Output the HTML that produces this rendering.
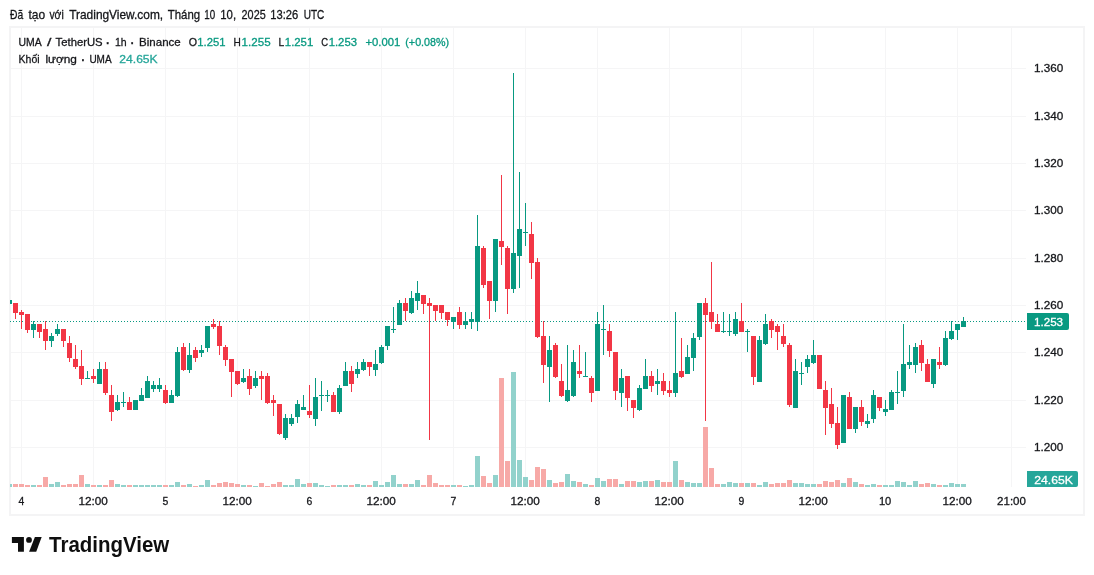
<!DOCTYPE html>
<html lang="vi"><head><meta charset="utf-8"><title>UMA / TetherUS</title>
<style>html,body{margin:0;padding:0;background:#fff}body{width:1094px;height:575px;overflow:hidden;position:relative}svg{position:absolute;left:0;top:0;display:block}text{font-family:"Liberation Sans", "DejaVu Sans", sans-serif;fill:#15161a}text{stroke:#15161a;stroke-width:.3px}.g{fill:#089981}.r{fill:#f23645}.vg{fill:#92d2cc}.vr{fill:#f7a9a7}.tg{fill:#089981;stroke:#089981}.w{fill:#fff;stroke:#fff}.tv{fill:#26a69a;stroke:#26a69a}</style></head><body>
<svg width="1094" height="575" viewBox="0 0 1094 575">
<rect x="0" y="0" width="1094" height="575" fill="#fff"/>
<text y="19" font-size="12.6"><tspan x="10.1" textLength="13.2" lengthAdjust="spacingAndGlyphs">Đã</tspan> <tspan x="28.4" textLength="16.7" lengthAdjust="spacingAndGlyphs">tạo</tspan> <tspan x="49.4" textLength="14.3" lengthAdjust="spacingAndGlyphs">với</tspan> <tspan x="69.2" textLength="94.0" lengthAdjust="spacingAndGlyphs">TradingView.com,</tspan> <tspan x="167.8" textLength="32.3" lengthAdjust="spacingAndGlyphs">Tháng</tspan> <tspan x="204.3" textLength="10.9" lengthAdjust="spacingAndGlyphs">10</tspan> <tspan x="220.3" textLength="15.8" lengthAdjust="spacingAndGlyphs">10,</tspan> <tspan x="241.6" textLength="24.1" lengthAdjust="spacingAndGlyphs">2025</tspan> <tspan x="270.3" textLength="28.0" lengthAdjust="spacingAndGlyphs">13:26</tspan> <tspan x="303.7" textLength="20.6" lengthAdjust="spacingAndGlyphs">UTC</tspan></text>
<g shape-rendering="crispEdges">
<rect x="11" y="68" width="1015" height="1" fill="#f5f5f6"/>
<rect x="11" y="116" width="1015" height="1" fill="#f5f5f6"/>
<rect x="11" y="163" width="1015" height="1" fill="#f5f5f6"/>
<rect x="11" y="210" width="1015" height="1" fill="#f5f5f6"/>
<rect x="11" y="258" width="1015" height="1" fill="#f5f5f6"/>
<rect x="11" y="305" width="1015" height="1" fill="#f5f5f6"/>
<rect x="11" y="352" width="1015" height="1" fill="#f5f5f6"/>
<rect x="11" y="400" width="1015" height="1" fill="#f5f5f6"/>
<rect x="11" y="447" width="1015" height="1" fill="#f5f5f6"/>
<rect x="21" y="28" width="1" height="459" fill="#f5f5f6"/>
<rect x="93" y="28" width="1" height="459" fill="#f5f5f6"/>
<rect x="165" y="28" width="1" height="459" fill="#f5f5f6"/>
<rect x="237" y="28" width="1" height="459" fill="#f5f5f6"/>
<rect x="309" y="28" width="1" height="459" fill="#f5f5f6"/>
<rect x="381" y="28" width="1" height="459" fill="#f5f5f6"/>
<rect x="453" y="28" width="1" height="459" fill="#f5f5f6"/>
<rect x="525" y="28" width="1" height="459" fill="#f5f5f6"/>
<rect x="597" y="28" width="1" height="459" fill="#f5f5f6"/>
<rect x="669" y="28" width="1" height="459" fill="#f5f5f6"/>
<rect x="741" y="28" width="1" height="459" fill="#f5f5f6"/>
<rect x="813" y="28" width="1" height="459" fill="#f5f5f6"/>
<rect x="885" y="28" width="1" height="459" fill="#f5f5f6"/>
<rect x="957" y="28" width="1" height="459" fill="#f5f5f6"/>
<rect x="1011" y="28" width="1" height="459" fill="#f5f5f6"/>
<rect x="9" y="26" width="1076" height="2" fill="#f4f4f5"/>
<rect x="9" y="514" width="1076" height="2" fill="#f4f4f5"/>
<rect x="9" y="26" width="2" height="490" fill="#f4f4f5"/>
<rect x="1083" y="26" width="2" height="490" fill="#f4f4f5"/>
</g>
<defs><clipPath id="pane"><rect x="10" y="28" width="1017" height="459"/></clipPath></defs>
<g shape-rendering="crispEdges" clip-path="url(#pane)">
<rect class="vg" x="7" y="484" width="5" height="3"/>
<rect class="vr" x="13" y="484" width="5" height="3"/>
<rect class="vr" x="19" y="484" width="5" height="3"/>
<rect class="vr" x="25" y="485" width="5" height="2"/>
<rect class="vg" x="31" y="485" width="5" height="2"/>
<rect class="vr" x="37" y="485" width="5" height="2"/>
<rect class="vr" x="43" y="477" width="5" height="10"/>
<rect class="vg" x="49" y="484" width="5" height="3"/>
<rect class="vg" x="55" y="482" width="5" height="5"/>
<rect class="vr" x="61" y="485" width="5" height="2"/>
<rect class="vr" x="67" y="484" width="5" height="3"/>
<rect class="vr" x="73" y="484" width="5" height="3"/>
<rect class="vr" x="79" y="475" width="5" height="12"/>
<rect class="vg" x="85" y="484" width="5" height="3"/>
<rect class="vr" x="91" y="485" width="5" height="2"/>
<rect class="vg" x="97" y="485" width="5" height="2"/>
<rect class="vr" x="103" y="485" width="5" height="2"/>
<rect class="vr" x="109" y="480" width="5" height="7"/>
<rect class="vg" x="115" y="484" width="5" height="3"/>
<rect class="vg" x="121" y="485" width="5" height="2"/>
<rect class="vr" x="127" y="485" width="5" height="2"/>
<rect class="vg" x="133" y="485" width="5" height="2"/>
<rect class="vg" x="139" y="485" width="5" height="2"/>
<rect class="vg" x="145" y="485" width="5" height="2"/>
<rect class="vg" x="151" y="485" width="5" height="2"/>
<rect class="vg" x="157" y="485" width="5" height="2"/>
<rect class="vr" x="163" y="485" width="5" height="2"/>
<rect class="vg" x="169" y="485" width="5" height="2"/>
<rect class="vg" x="175" y="482" width="5" height="5"/>
<rect class="vr" x="181" y="485" width="5" height="2"/>
<rect class="vg" x="187" y="484" width="5" height="3"/>
<rect class="vr" x="193" y="486" width="5" height="1"/>
<rect class="vg" x="199" y="485" width="5" height="2"/>
<rect class="vg" x="205" y="480" width="5" height="7"/>
<rect class="vr" x="211" y="485" width="5" height="2"/>
<rect class="vr" x="217" y="483" width="5" height="4"/>
<rect class="vr" x="223" y="482" width="5" height="5"/>
<rect class="vr" x="229" y="483" width="5" height="4"/>
<rect class="vr" x="235" y="484" width="5" height="3"/>
<rect class="vg" x="241" y="485" width="5" height="2"/>
<rect class="vr" x="247" y="485" width="5" height="2"/>
<rect class="vg" x="253" y="486" width="5" height="1"/>
<rect class="vr" x="259" y="483" width="5" height="4"/>
<rect class="vr" x="265" y="486" width="5" height="1"/>
<rect class="vr" x="271" y="484" width="5" height="3"/>
<rect class="vr" x="277" y="482" width="5" height="5"/>
<rect class="vg" x="283" y="485" width="5" height="2"/>
<rect class="vg" x="289" y="485" width="5" height="2"/>
<rect class="vg" x="295" y="479" width="5" height="8"/>
<rect class="vg" x="301" y="484" width="5" height="3"/>
<rect class="vr" x="307" y="483" width="5" height="4"/>
<rect class="vg" x="313" y="483" width="5" height="4"/>
<rect class="vg" x="319" y="485" width="5" height="2"/>
<rect class="vg" x="325" y="486" width="5" height="1"/>
<rect class="vr" x="331" y="485" width="5" height="2"/>
<rect class="vg" x="337" y="485" width="5" height="2"/>
<rect class="vg" x="343" y="485" width="5" height="2"/>
<rect class="vr" x="349" y="485" width="5" height="2"/>
<rect class="vg" x="355" y="484" width="5" height="3"/>
<rect class="vg" x="361" y="485" width="5" height="2"/>
<rect class="vr" x="367" y="485" width="5" height="2"/>
<rect class="vg" x="373" y="481" width="5" height="6"/>
<rect class="vg" x="379" y="485" width="5" height="2"/>
<rect class="vg" x="385" y="482" width="5" height="5"/>
<rect class="vg" x="391" y="475" width="5" height="12"/>
<rect class="vg" x="397" y="484" width="5" height="3"/>
<rect class="vr" x="403" y="484" width="5" height="3"/>
<rect class="vg" x="409" y="484" width="5" height="3"/>
<rect class="vg" x="415" y="480" width="5" height="7"/>
<rect class="vr" x="421" y="485" width="5" height="2"/>
<rect class="vr" x="427" y="475" width="5" height="12"/>
<rect class="vr" x="433" y="483" width="5" height="4"/>
<rect class="vr" x="439" y="485" width="5" height="2"/>
<rect class="vr" x="445" y="485" width="5" height="2"/>
<rect class="vg" x="451" y="485" width="5" height="2"/>
<rect class="vr" x="457" y="485" width="5" height="2"/>
<rect class="vg" x="463" y="486" width="5" height="1"/>
<rect class="vg" x="469" y="485" width="5" height="2"/>
<rect class="vg" x="475" y="456" width="5" height="31"/>
<rect class="vr" x="481" y="476" width="5" height="11"/>
<rect class="vr" x="487" y="483" width="5" height="4"/>
<rect class="vg" x="493" y="475" width="5" height="12"/>
<rect class="vr" x="499" y="378" width="5" height="109"/>
<rect class="vr" x="505" y="461" width="5" height="26"/>
<rect class="vg" x="511" y="372" width="5" height="115"/>
<rect class="vg" x="517" y="460" width="5" height="27"/>
<rect class="vg" x="523" y="477" width="5" height="10"/>
<rect class="vr" x="529" y="480" width="5" height="7"/>
<rect class="vr" x="535" y="467" width="5" height="20"/>
<rect class="vr" x="541" y="469" width="5" height="18"/>
<rect class="vg" x="547" y="480" width="5" height="7"/>
<rect class="vr" x="553" y="483" width="5" height="4"/>
<rect class="vr" x="559" y="482" width="5" height="5"/>
<rect class="vg" x="565" y="474" width="5" height="13"/>
<rect class="vg" x="571" y="481" width="5" height="6"/>
<rect class="vr" x="577" y="482" width="5" height="5"/>
<rect class="vg" x="583" y="484" width="5" height="3"/>
<rect class="vr" x="589" y="485" width="5" height="2"/>
<rect class="vg" x="595" y="478" width="5" height="9"/>
<rect class="vg" x="601" y="481" width="5" height="6"/>
<rect class="vr" x="607" y="479" width="5" height="8"/>
<rect class="vr" x="613" y="479" width="5" height="8"/>
<rect class="vg" x="619" y="484" width="5" height="3"/>
<rect class="vr" x="625" y="481" width="5" height="6"/>
<rect class="vr" x="631" y="481" width="5" height="6"/>
<rect class="vg" x="637" y="482" width="5" height="5"/>
<rect class="vg" x="643" y="481" width="5" height="6"/>
<rect class="vr" x="649" y="481" width="5" height="6"/>
<rect class="vg" x="655" y="480" width="5" height="7"/>
<rect class="vr" x="661" y="482" width="5" height="5"/>
<rect class="vr" x="667" y="482" width="5" height="5"/>
<rect class="vg" x="673" y="461" width="5" height="26"/>
<rect class="vr" x="679" y="480" width="5" height="7"/>
<rect class="vg" x="685" y="482" width="5" height="5"/>
<rect class="vg" x="691" y="483" width="5" height="4"/>
<rect class="vg" x="697" y="483" width="5" height="4"/>
<rect class="vr" x="703" y="427" width="5" height="60"/>
<rect class="vr" x="709" y="468" width="5" height="19"/>
<rect class="vr" x="715" y="484" width="5" height="3"/>
<rect class="vg" x="721" y="484" width="5" height="3"/>
<rect class="vg" x="727" y="482" width="5" height="5"/>
<rect class="vg" x="733" y="483" width="5" height="4"/>
<rect class="vr" x="739" y="483" width="5" height="4"/>
<rect class="vg" x="745" y="483" width="5" height="4"/>
<rect class="vr" x="751" y="483" width="5" height="4"/>
<rect class="vg" x="757" y="485" width="5" height="2"/>
<rect class="vg" x="763" y="482" width="5" height="5"/>
<rect class="vr" x="769" y="484" width="5" height="3"/>
<rect class="vr" x="775" y="483" width="5" height="4"/>
<rect class="vr" x="781" y="483" width="5" height="4"/>
<rect class="vr" x="787" y="480" width="5" height="7"/>
<rect class="vg" x="793" y="483" width="5" height="4"/>
<rect class="vg" x="799" y="483" width="5" height="4"/>
<rect class="vg" x="805" y="484" width="5" height="3"/>
<rect class="vg" x="811" y="484" width="5" height="3"/>
<rect class="vr" x="817" y="484" width="5" height="3"/>
<rect class="vr" x="823" y="481" width="5" height="6"/>
<rect class="vr" x="829" y="482" width="5" height="5"/>
<rect class="vr" x="835" y="480" width="5" height="7"/>
<rect class="vg" x="841" y="483" width="5" height="4"/>
<rect class="vr" x="847" y="478" width="5" height="9"/>
<rect class="vg" x="853" y="482" width="5" height="5"/>
<rect class="vr" x="859" y="484" width="5" height="3"/>
<rect class="vg" x="865" y="485" width="5" height="2"/>
<rect class="vg" x="871" y="484" width="5" height="3"/>
<rect class="vr" x="877" y="485" width="5" height="2"/>
<rect class="vg" x="883" y="485" width="5" height="2"/>
<rect class="vg" x="889" y="485" width="5" height="2"/>
<rect class="vg" x="895" y="481" width="5" height="6"/>
<rect class="vg" x="901" y="482" width="5" height="5"/>
<rect class="vg" x="907" y="485" width="5" height="2"/>
<rect class="vg" x="913" y="481" width="5" height="6"/>
<rect class="vr" x="919" y="484" width="5" height="3"/>
<rect class="vr" x="925" y="483" width="5" height="4"/>
<rect class="vg" x="931" y="484" width="5" height="3"/>
<rect class="vr" x="937" y="485" width="5" height="2"/>
<rect class="vg" x="943" y="485" width="5" height="2"/>
<rect class="vg" x="949" y="483" width="5" height="4"/>
<rect class="vg" x="955" y="484" width="5" height="3"/>
<rect class="vg" x="961" y="484" width="5" height="3"/>
<g class="g"><rect x="10" y="321" width="1" height="1"/><rect x="13" y="321" width="1" height="1"/><rect x="16" y="321" width="1" height="1"/><rect x="19" y="321" width="1" height="1"/><rect x="22" y="321" width="1" height="1"/><rect x="25" y="321" width="1" height="1"/><rect x="28" y="321" width="1" height="1"/><rect x="31" y="321" width="1" height="1"/><rect x="34" y="321" width="1" height="1"/><rect x="37" y="321" width="1" height="1"/><rect x="40" y="321" width="1" height="1"/><rect x="43" y="321" width="1" height="1"/><rect x="46" y="321" width="1" height="1"/><rect x="49" y="321" width="1" height="1"/><rect x="52" y="321" width="1" height="1"/><rect x="55" y="321" width="1" height="1"/><rect x="58" y="321" width="1" height="1"/><rect x="61" y="321" width="1" height="1"/><rect x="64" y="321" width="1" height="1"/><rect x="67" y="321" width="1" height="1"/><rect x="70" y="321" width="1" height="1"/><rect x="73" y="321" width="1" height="1"/><rect x="76" y="321" width="1" height="1"/><rect x="79" y="321" width="1" height="1"/><rect x="82" y="321" width="1" height="1"/><rect x="85" y="321" width="1" height="1"/><rect x="88" y="321" width="1" height="1"/><rect x="91" y="321" width="1" height="1"/><rect x="94" y="321" width="1" height="1"/><rect x="97" y="321" width="1" height="1"/><rect x="100" y="321" width="1" height="1"/><rect x="103" y="321" width="1" height="1"/><rect x="106" y="321" width="1" height="1"/><rect x="109" y="321" width="1" height="1"/><rect x="112" y="321" width="1" height="1"/><rect x="115" y="321" width="1" height="1"/><rect x="118" y="321" width="1" height="1"/><rect x="121" y="321" width="1" height="1"/><rect x="124" y="321" width="1" height="1"/><rect x="127" y="321" width="1" height="1"/><rect x="130" y="321" width="1" height="1"/><rect x="133" y="321" width="1" height="1"/><rect x="136" y="321" width="1" height="1"/><rect x="139" y="321" width="1" height="1"/><rect x="142" y="321" width="1" height="1"/><rect x="145" y="321" width="1" height="1"/><rect x="148" y="321" width="1" height="1"/><rect x="151" y="321" width="1" height="1"/><rect x="154" y="321" width="1" height="1"/><rect x="157" y="321" width="1" height="1"/><rect x="160" y="321" width="1" height="1"/><rect x="163" y="321" width="1" height="1"/><rect x="166" y="321" width="1" height="1"/><rect x="169" y="321" width="1" height="1"/><rect x="172" y="321" width="1" height="1"/><rect x="175" y="321" width="1" height="1"/><rect x="178" y="321" width="1" height="1"/><rect x="181" y="321" width="1" height="1"/><rect x="184" y="321" width="1" height="1"/><rect x="187" y="321" width="1" height="1"/><rect x="190" y="321" width="1" height="1"/><rect x="193" y="321" width="1" height="1"/><rect x="196" y="321" width="1" height="1"/><rect x="199" y="321" width="1" height="1"/><rect x="202" y="321" width="1" height="1"/><rect x="205" y="321" width="1" height="1"/><rect x="208" y="321" width="1" height="1"/><rect x="211" y="321" width="1" height="1"/><rect x="214" y="321" width="1" height="1"/><rect x="217" y="321" width="1" height="1"/><rect x="220" y="321" width="1" height="1"/><rect x="223" y="321" width="1" height="1"/><rect x="226" y="321" width="1" height="1"/><rect x="229" y="321" width="1" height="1"/><rect x="232" y="321" width="1" height="1"/><rect x="235" y="321" width="1" height="1"/><rect x="238" y="321" width="1" height="1"/><rect x="241" y="321" width="1" height="1"/><rect x="244" y="321" width="1" height="1"/><rect x="247" y="321" width="1" height="1"/><rect x="250" y="321" width="1" height="1"/><rect x="253" y="321" width="1" height="1"/><rect x="256" y="321" width="1" height="1"/><rect x="259" y="321" width="1" height="1"/><rect x="262" y="321" width="1" height="1"/><rect x="265" y="321" width="1" height="1"/><rect x="268" y="321" width="1" height="1"/><rect x="271" y="321" width="1" height="1"/><rect x="274" y="321" width="1" height="1"/><rect x="277" y="321" width="1" height="1"/><rect x="280" y="321" width="1" height="1"/><rect x="283" y="321" width="1" height="1"/><rect x="286" y="321" width="1" height="1"/><rect x="289" y="321" width="1" height="1"/><rect x="292" y="321" width="1" height="1"/><rect x="295" y="321" width="1" height="1"/><rect x="298" y="321" width="1" height="1"/><rect x="301" y="321" width="1" height="1"/><rect x="304" y="321" width="1" height="1"/><rect x="307" y="321" width="1" height="1"/><rect x="310" y="321" width="1" height="1"/><rect x="313" y="321" width="1" height="1"/><rect x="316" y="321" width="1" height="1"/><rect x="319" y="321" width="1" height="1"/><rect x="322" y="321" width="1" height="1"/><rect x="325" y="321" width="1" height="1"/><rect x="328" y="321" width="1" height="1"/><rect x="331" y="321" width="1" height="1"/><rect x="334" y="321" width="1" height="1"/><rect x="337" y="321" width="1" height="1"/><rect x="340" y="321" width="1" height="1"/><rect x="343" y="321" width="1" height="1"/><rect x="346" y="321" width="1" height="1"/><rect x="349" y="321" width="1" height="1"/><rect x="352" y="321" width="1" height="1"/><rect x="355" y="321" width="1" height="1"/><rect x="358" y="321" width="1" height="1"/><rect x="361" y="321" width="1" height="1"/><rect x="364" y="321" width="1" height="1"/><rect x="367" y="321" width="1" height="1"/><rect x="370" y="321" width="1" height="1"/><rect x="373" y="321" width="1" height="1"/><rect x="376" y="321" width="1" height="1"/><rect x="379" y="321" width="1" height="1"/><rect x="382" y="321" width="1" height="1"/><rect x="385" y="321" width="1" height="1"/><rect x="388" y="321" width="1" height="1"/><rect x="391" y="321" width="1" height="1"/><rect x="394" y="321" width="1" height="1"/><rect x="397" y="321" width="1" height="1"/><rect x="400" y="321" width="1" height="1"/><rect x="403" y="321" width="1" height="1"/><rect x="406" y="321" width="1" height="1"/><rect x="409" y="321" width="1" height="1"/><rect x="412" y="321" width="1" height="1"/><rect x="415" y="321" width="1" height="1"/><rect x="418" y="321" width="1" height="1"/><rect x="421" y="321" width="1" height="1"/><rect x="424" y="321" width="1" height="1"/><rect x="427" y="321" width="1" height="1"/><rect x="430" y="321" width="1" height="1"/><rect x="433" y="321" width="1" height="1"/><rect x="436" y="321" width="1" height="1"/><rect x="439" y="321" width="1" height="1"/><rect x="442" y="321" width="1" height="1"/><rect x="445" y="321" width="1" height="1"/><rect x="448" y="321" width="1" height="1"/><rect x="451" y="321" width="1" height="1"/><rect x="454" y="321" width="1" height="1"/><rect x="457" y="321" width="1" height="1"/><rect x="460" y="321" width="1" height="1"/><rect x="463" y="321" width="1" height="1"/><rect x="466" y="321" width="1" height="1"/><rect x="469" y="321" width="1" height="1"/><rect x="472" y="321" width="1" height="1"/><rect x="475" y="321" width="1" height="1"/><rect x="478" y="321" width="1" height="1"/><rect x="481" y="321" width="1" height="1"/><rect x="484" y="321" width="1" height="1"/><rect x="487" y="321" width="1" height="1"/><rect x="490" y="321" width="1" height="1"/><rect x="493" y="321" width="1" height="1"/><rect x="496" y="321" width="1" height="1"/><rect x="499" y="321" width="1" height="1"/><rect x="502" y="321" width="1" height="1"/><rect x="505" y="321" width="1" height="1"/><rect x="508" y="321" width="1" height="1"/><rect x="511" y="321" width="1" height="1"/><rect x="514" y="321" width="1" height="1"/><rect x="517" y="321" width="1" height="1"/><rect x="520" y="321" width="1" height="1"/><rect x="523" y="321" width="1" height="1"/><rect x="526" y="321" width="1" height="1"/><rect x="529" y="321" width="1" height="1"/><rect x="532" y="321" width="1" height="1"/><rect x="535" y="321" width="1" height="1"/><rect x="538" y="321" width="1" height="1"/><rect x="541" y="321" width="1" height="1"/><rect x="544" y="321" width="1" height="1"/><rect x="547" y="321" width="1" height="1"/><rect x="550" y="321" width="1" height="1"/><rect x="553" y="321" width="1" height="1"/><rect x="556" y="321" width="1" height="1"/><rect x="559" y="321" width="1" height="1"/><rect x="562" y="321" width="1" height="1"/><rect x="565" y="321" width="1" height="1"/><rect x="568" y="321" width="1" height="1"/><rect x="571" y="321" width="1" height="1"/><rect x="574" y="321" width="1" height="1"/><rect x="577" y="321" width="1" height="1"/><rect x="580" y="321" width="1" height="1"/><rect x="583" y="321" width="1" height="1"/><rect x="586" y="321" width="1" height="1"/><rect x="589" y="321" width="1" height="1"/><rect x="592" y="321" width="1" height="1"/><rect x="595" y="321" width="1" height="1"/><rect x="598" y="321" width="1" height="1"/><rect x="601" y="321" width="1" height="1"/><rect x="604" y="321" width="1" height="1"/><rect x="607" y="321" width="1" height="1"/><rect x="610" y="321" width="1" height="1"/><rect x="613" y="321" width="1" height="1"/><rect x="616" y="321" width="1" height="1"/><rect x="619" y="321" width="1" height="1"/><rect x="622" y="321" width="1" height="1"/><rect x="625" y="321" width="1" height="1"/><rect x="628" y="321" width="1" height="1"/><rect x="631" y="321" width="1" height="1"/><rect x="634" y="321" width="1" height="1"/><rect x="637" y="321" width="1" height="1"/><rect x="640" y="321" width="1" height="1"/><rect x="643" y="321" width="1" height="1"/><rect x="646" y="321" width="1" height="1"/><rect x="649" y="321" width="1" height="1"/><rect x="652" y="321" width="1" height="1"/><rect x="655" y="321" width="1" height="1"/><rect x="658" y="321" width="1" height="1"/><rect x="661" y="321" width="1" height="1"/><rect x="664" y="321" width="1" height="1"/><rect x="667" y="321" width="1" height="1"/><rect x="670" y="321" width="1" height="1"/><rect x="673" y="321" width="1" height="1"/><rect x="676" y="321" width="1" height="1"/><rect x="679" y="321" width="1" height="1"/><rect x="682" y="321" width="1" height="1"/><rect x="685" y="321" width="1" height="1"/><rect x="688" y="321" width="1" height="1"/><rect x="691" y="321" width="1" height="1"/><rect x="694" y="321" width="1" height="1"/><rect x="697" y="321" width="1" height="1"/><rect x="700" y="321" width="1" height="1"/><rect x="703" y="321" width="1" height="1"/><rect x="706" y="321" width="1" height="1"/><rect x="709" y="321" width="1" height="1"/><rect x="712" y="321" width="1" height="1"/><rect x="715" y="321" width="1" height="1"/><rect x="718" y="321" width="1" height="1"/><rect x="721" y="321" width="1" height="1"/><rect x="724" y="321" width="1" height="1"/><rect x="727" y="321" width="1" height="1"/><rect x="730" y="321" width="1" height="1"/><rect x="733" y="321" width="1" height="1"/><rect x="736" y="321" width="1" height="1"/><rect x="739" y="321" width="1" height="1"/><rect x="742" y="321" width="1" height="1"/><rect x="745" y="321" width="1" height="1"/><rect x="748" y="321" width="1" height="1"/><rect x="751" y="321" width="1" height="1"/><rect x="754" y="321" width="1" height="1"/><rect x="757" y="321" width="1" height="1"/><rect x="760" y="321" width="1" height="1"/><rect x="763" y="321" width="1" height="1"/><rect x="766" y="321" width="1" height="1"/><rect x="769" y="321" width="1" height="1"/><rect x="772" y="321" width="1" height="1"/><rect x="775" y="321" width="1" height="1"/><rect x="778" y="321" width="1" height="1"/><rect x="781" y="321" width="1" height="1"/><rect x="784" y="321" width="1" height="1"/><rect x="787" y="321" width="1" height="1"/><rect x="790" y="321" width="1" height="1"/><rect x="793" y="321" width="1" height="1"/><rect x="796" y="321" width="1" height="1"/><rect x="799" y="321" width="1" height="1"/><rect x="802" y="321" width="1" height="1"/><rect x="805" y="321" width="1" height="1"/><rect x="808" y="321" width="1" height="1"/><rect x="811" y="321" width="1" height="1"/><rect x="814" y="321" width="1" height="1"/><rect x="817" y="321" width="1" height="1"/><rect x="820" y="321" width="1" height="1"/><rect x="823" y="321" width="1" height="1"/><rect x="826" y="321" width="1" height="1"/><rect x="829" y="321" width="1" height="1"/><rect x="832" y="321" width="1" height="1"/><rect x="835" y="321" width="1" height="1"/><rect x="838" y="321" width="1" height="1"/><rect x="841" y="321" width="1" height="1"/><rect x="844" y="321" width="1" height="1"/><rect x="847" y="321" width="1" height="1"/><rect x="850" y="321" width="1" height="1"/><rect x="853" y="321" width="1" height="1"/><rect x="856" y="321" width="1" height="1"/><rect x="859" y="321" width="1" height="1"/><rect x="862" y="321" width="1" height="1"/><rect x="865" y="321" width="1" height="1"/><rect x="868" y="321" width="1" height="1"/><rect x="871" y="321" width="1" height="1"/><rect x="874" y="321" width="1" height="1"/><rect x="877" y="321" width="1" height="1"/><rect x="880" y="321" width="1" height="1"/><rect x="883" y="321" width="1" height="1"/><rect x="886" y="321" width="1" height="1"/><rect x="889" y="321" width="1" height="1"/><rect x="892" y="321" width="1" height="1"/><rect x="895" y="321" width="1" height="1"/><rect x="898" y="321" width="1" height="1"/><rect x="901" y="321" width="1" height="1"/><rect x="904" y="321" width="1" height="1"/><rect x="907" y="321" width="1" height="1"/><rect x="910" y="321" width="1" height="1"/><rect x="913" y="321" width="1" height="1"/><rect x="916" y="321" width="1" height="1"/><rect x="919" y="321" width="1" height="1"/><rect x="922" y="321" width="1" height="1"/><rect x="925" y="321" width="1" height="1"/><rect x="928" y="321" width="1" height="1"/><rect x="931" y="321" width="1" height="1"/><rect x="934" y="321" width="1" height="1"/><rect x="937" y="321" width="1" height="1"/><rect x="940" y="321" width="1" height="1"/><rect x="943" y="321" width="1" height="1"/><rect x="946" y="321" width="1" height="1"/><rect x="949" y="321" width="1" height="1"/><rect x="952" y="321" width="1" height="1"/><rect x="955" y="321" width="1" height="1"/><rect x="958" y="321" width="1" height="1"/><rect x="961" y="321" width="1" height="1"/><rect x="964" y="321" width="1" height="1"/><rect x="967" y="321" width="1" height="1"/><rect x="970" y="321" width="1" height="1"/><rect x="973" y="321" width="1" height="1"/><rect x="976" y="321" width="1" height="1"/><rect x="979" y="321" width="1" height="1"/><rect x="982" y="321" width="1" height="1"/><rect x="985" y="321" width="1" height="1"/><rect x="988" y="321" width="1" height="1"/><rect x="991" y="321" width="1" height="1"/><rect x="994" y="321" width="1" height="1"/><rect x="997" y="321" width="1" height="1"/><rect x="1000" y="321" width="1" height="1"/><rect x="1003" y="321" width="1" height="1"/><rect x="1006" y="321" width="1" height="1"/><rect x="1009" y="321" width="1" height="1"/><rect x="1012" y="321" width="1" height="1"/><rect x="1015" y="321" width="1" height="1"/><rect x="1018" y="321" width="1" height="1"/><rect x="1021" y="321" width="1" height="1"/><rect x="1024" y="321" width="1" height="1"/></g>
<rect class="g" x="9" y="300" width="1" height="4"/>
<rect class="g" x="7" y="300" width="5" height="4"/>
<rect class="r" x="15" y="303" width="1" height="16"/>
<rect class="r" x="13" y="303" width="5" height="10"/>
<rect class="r" x="21" y="310" width="1" height="19"/>
<rect class="r" x="19" y="312" width="5" height="3"/>
<rect class="r" x="27" y="314" width="1" height="19"/>
<rect class="r" x="25" y="314" width="5" height="16"/>
<rect class="g" x="33" y="321" width="1" height="17"/>
<rect class="g" x="31" y="324" width="5" height="6"/>
<rect class="r" x="39" y="324" width="1" height="14"/>
<rect class="r" x="37" y="324" width="5" height="8"/>
<rect class="r" x="45" y="321" width="1" height="29"/>
<rect class="r" x="43" y="329" width="5" height="12"/>
<rect class="g" x="51" y="333" width="1" height="14"/>
<rect class="g" x="49" y="336" width="5" height="5"/>
<rect class="g" x="57" y="324" width="1" height="12"/>
<rect class="g" x="55" y="329" width="5" height="5"/>
<rect class="r" x="63" y="329" width="1" height="18"/>
<rect class="r" x="61" y="329" width="5" height="12"/>
<rect class="r" x="69" y="336" width="1" height="26"/>
<rect class="r" x="67" y="343" width="5" height="15"/>
<rect class="r" x="75" y="345" width="1" height="24"/>
<rect class="r" x="73" y="359" width="5" height="8"/>
<rect class="r" x="81" y="350" width="1" height="35"/>
<rect class="r" x="79" y="366" width="5" height="13"/>
<rect class="g" x="87" y="371" width="1" height="8"/>
<rect class="g" x="85" y="378" width="5" height="1"/>
<rect class="r" x="93" y="369" width="1" height="14"/>
<rect class="r" x="91" y="376" width="5" height="3"/>
<rect class="g" x="99" y="362" width="1" height="22"/>
<rect class="g" x="97" y="369" width="5" height="15"/>
<rect class="r" x="105" y="362" width="1" height="33"/>
<rect class="r" x="103" y="369" width="5" height="24"/>
<rect class="r" x="111" y="385" width="1" height="36"/>
<rect class="r" x="109" y="395" width="5" height="17"/>
<rect class="g" x="117" y="395" width="1" height="16"/>
<rect class="g" x="115" y="402" width="5" height="8"/>
<rect class="g" x="123" y="392" width="1" height="15"/>
<rect class="g" x="121" y="402" width="5" height="1"/>
<rect class="r" x="129" y="397" width="1" height="13"/>
<rect class="r" x="127" y="402" width="5" height="8"/>
<rect class="g" x="135" y="400" width="1" height="10"/>
<rect class="g" x="133" y="400" width="5" height="10"/>
<rect class="g" x="141" y="388" width="1" height="13"/>
<rect class="g" x="139" y="395" width="5" height="6"/>
<rect class="g" x="147" y="376" width="1" height="22"/>
<rect class="g" x="145" y="381" width="5" height="17"/>
<rect class="g" x="153" y="381" width="1" height="11"/>
<rect class="g" x="151" y="385" width="5" height="4"/>
<rect class="g" x="159" y="378" width="1" height="14"/>
<rect class="g" x="157" y="385" width="5" height="4"/>
<rect class="r" x="165" y="385" width="1" height="19"/>
<rect class="r" x="163" y="390" width="5" height="13"/>
<rect class="g" x="171" y="390" width="1" height="13"/>
<rect class="g" x="169" y="395" width="5" height="8"/>
<rect class="g" x="177" y="347" width="1" height="50"/>
<rect class="g" x="175" y="352" width="5" height="44"/>
<rect class="r" x="183" y="343" width="1" height="28"/>
<rect class="r" x="181" y="347" width="5" height="23"/>
<rect class="g" x="189" y="343" width="1" height="30"/>
<rect class="g" x="187" y="355" width="5" height="15"/>
<rect class="r" x="195" y="347" width="1" height="15"/>
<rect class="r" x="193" y="350" width="5" height="8"/>
<rect class="g" x="201" y="345" width="1" height="12"/>
<rect class="g" x="199" y="350" width="5" height="3"/>
<rect class="g" x="207" y="326" width="1" height="26"/>
<rect class="g" x="205" y="326" width="5" height="22"/>
<rect class="r" x="213" y="319" width="1" height="10"/>
<rect class="r" x="211" y="324" width="5" height="3"/>
<rect class="r" x="219" y="321" width="1" height="34"/>
<rect class="r" x="217" y="326" width="5" height="20"/>
<rect class="r" x="225" y="345" width="1" height="21"/>
<rect class="r" x="223" y="347" width="5" height="13"/>
<rect class="r" x="231" y="359" width="1" height="38"/>
<rect class="r" x="229" y="359" width="5" height="13"/>
<rect class="r" x="237" y="371" width="1" height="14"/>
<rect class="r" x="235" y="371" width="5" height="13"/>
<rect class="g" x="243" y="369" width="1" height="14"/>
<rect class="g" x="241" y="378" width="5" height="4"/>
<rect class="r" x="249" y="369" width="1" height="26"/>
<rect class="r" x="247" y="376" width="5" height="13"/>
<rect class="g" x="255" y="371" width="1" height="17"/>
<rect class="g" x="253" y="378" width="5" height="8"/>
<rect class="r" x="261" y="371" width="1" height="29"/>
<rect class="r" x="259" y="376" width="5" height="3"/>
<rect class="r" x="267" y="373" width="1" height="31"/>
<rect class="r" x="265" y="376" width="5" height="27"/>
<rect class="r" x="273" y="395" width="1" height="21"/>
<rect class="r" x="271" y="400" width="5" height="3"/>
<rect class="r" x="279" y="404" width="1" height="31"/>
<rect class="r" x="277" y="404" width="5" height="30"/>
<rect class="g" x="285" y="414" width="1" height="26"/>
<rect class="g" x="283" y="418" width="5" height="20"/>
<rect class="g" x="291" y="414" width="1" height="12"/>
<rect class="g" x="289" y="418" width="5" height="6"/>
<rect class="g" x="297" y="400" width="1" height="23"/>
<rect class="g" x="295" y="404" width="5" height="13"/>
<rect class="g" x="303" y="395" width="1" height="15"/>
<rect class="g" x="301" y="407" width="5" height="3"/>
<rect class="r" x="309" y="385" width="1" height="33"/>
<rect class="r" x="307" y="411" width="5" height="4"/>
<rect class="g" x="315" y="378" width="1" height="48"/>
<rect class="g" x="313" y="397" width="5" height="22"/>
<rect class="g" x="321" y="381" width="1" height="30"/>
<rect class="g" x="319" y="395" width="5" height="1"/>
<rect class="g" x="327" y="390" width="1" height="12"/>
<rect class="g" x="325" y="395" width="5" height="1"/>
<rect class="r" x="333" y="392" width="1" height="20"/>
<rect class="r" x="331" y="395" width="5" height="17"/>
<rect class="g" x="339" y="385" width="1" height="29"/>
<rect class="g" x="337" y="388" width="5" height="24"/>
<rect class="g" x="345" y="362" width="1" height="24"/>
<rect class="g" x="343" y="371" width="5" height="15"/>
<rect class="r" x="351" y="366" width="1" height="26"/>
<rect class="r" x="349" y="371" width="5" height="13"/>
<rect class="g" x="357" y="362" width="1" height="16"/>
<rect class="g" x="355" y="369" width="5" height="5"/>
<rect class="g" x="363" y="359" width="1" height="12"/>
<rect class="g" x="361" y="362" width="5" height="8"/>
<rect class="r" x="369" y="362" width="1" height="14"/>
<rect class="r" x="367" y="362" width="5" height="5"/>
<rect class="g" x="375" y="350" width="1" height="26"/>
<rect class="g" x="373" y="364" width="5" height="6"/>
<rect class="g" x="381" y="345" width="1" height="19"/>
<rect class="g" x="379" y="347" width="5" height="16"/>
<rect class="g" x="387" y="326" width="1" height="24"/>
<rect class="g" x="385" y="326" width="5" height="20"/>
<rect class="g" x="393" y="307" width="1" height="26"/>
<rect class="g" x="391" y="329" width="5" height="1"/>
<rect class="g" x="399" y="300" width="1" height="25"/>
<rect class="g" x="397" y="303" width="5" height="22"/>
<rect class="r" x="405" y="298" width="1" height="23"/>
<rect class="r" x="403" y="303" width="5" height="8"/>
<rect class="g" x="411" y="291" width="1" height="23"/>
<rect class="g" x="409" y="298" width="5" height="15"/>
<rect class="g" x="417" y="281" width="1" height="29"/>
<rect class="g" x="415" y="293" width="5" height="8"/>
<rect class="r" x="423" y="295" width="1" height="19"/>
<rect class="r" x="421" y="295" width="5" height="9"/>
<rect class="r" x="429" y="298" width="1" height="142"/>
<rect class="r" x="427" y="303" width="5" height="3"/>
<rect class="r" x="435" y="305" width="1" height="16"/>
<rect class="r" x="433" y="305" width="5" height="6"/>
<rect class="r" x="441" y="305" width="1" height="14"/>
<rect class="r" x="439" y="305" width="5" height="8"/>
<rect class="r" x="447" y="312" width="1" height="14"/>
<rect class="r" x="445" y="312" width="5" height="8"/>
<rect class="g" x="453" y="317" width="1" height="12"/>
<rect class="g" x="451" y="317" width="5" height="5"/>
<rect class="r" x="459" y="307" width="1" height="22"/>
<rect class="r" x="457" y="312" width="5" height="13"/>
<rect class="g" x="465" y="312" width="1" height="17"/>
<rect class="g" x="463" y="321" width="5" height="4"/>
<rect class="g" x="471" y="312" width="1" height="17"/>
<rect class="g" x="469" y="319" width="5" height="3"/>
<rect class="g" x="477" y="215" width="1" height="116"/>
<rect class="g" x="475" y="246" width="5" height="76"/>
<rect class="r" x="483" y="246" width="1" height="42"/>
<rect class="r" x="481" y="248" width="5" height="37"/>
<rect class="r" x="489" y="281" width="1" height="38"/>
<rect class="r" x="487" y="281" width="5" height="20"/>
<rect class="g" x="495" y="239" width="1" height="73"/>
<rect class="g" x="493" y="239" width="5" height="62"/>
<rect class="r" x="501" y="175" width="1" height="90"/>
<rect class="r" x="499" y="241" width="5" height="6"/>
<rect class="r" x="507" y="246" width="1" height="68"/>
<rect class="r" x="505" y="248" width="5" height="41"/>
<rect class="g" x="513" y="73" width="1" height="220"/>
<rect class="g" x="511" y="253" width="5" height="36"/>
<rect class="g" x="519" y="172" width="1" height="116"/>
<rect class="g" x="517" y="229" width="5" height="27"/>
<rect class="g" x="525" y="203" width="1" height="43"/>
<rect class="g" x="523" y="232" width="5" height="1"/>
<rect class="r" x="531" y="222" width="1" height="57"/>
<rect class="r" x="529" y="234" width="5" height="29"/>
<rect class="r" x="537" y="258" width="1" height="80"/>
<rect class="r" x="535" y="262" width="5" height="75"/>
<rect class="r" x="543" y="321" width="1" height="62"/>
<rect class="r" x="541" y="336" width="5" height="29"/>
<rect class="g" x="549" y="336" width="1" height="66"/>
<rect class="g" x="547" y="350" width="5" height="17"/>
<rect class="r" x="555" y="343" width="1" height="35"/>
<rect class="r" x="553" y="345" width="5" height="32"/>
<rect class="r" x="561" y="364" width="1" height="33"/>
<rect class="r" x="559" y="381" width="5" height="15"/>
<rect class="g" x="567" y="345" width="1" height="57"/>
<rect class="g" x="565" y="390" width="5" height="11"/>
<rect class="g" x="573" y="350" width="1" height="47"/>
<rect class="g" x="571" y="362" width="5" height="34"/>
<rect class="r" x="579" y="345" width="1" height="33"/>
<rect class="r" x="577" y="371" width="5" height="3"/>
<rect class="g" x="585" y="352" width="1" height="25"/>
<rect class="g" x="583" y="376" width="5" height="1"/>
<rect class="r" x="591" y="376" width="1" height="26"/>
<rect class="r" x="589" y="378" width="5" height="15"/>
<rect class="g" x="597" y="312" width="1" height="79"/>
<rect class="g" x="595" y="324" width="5" height="67"/>
<rect class="g" x="603" y="305" width="1" height="50"/>
<rect class="g" x="601" y="329" width="5" height="1"/>
<rect class="r" x="609" y="324" width="1" height="33"/>
<rect class="r" x="607" y="331" width="5" height="20"/>
<rect class="r" x="615" y="352" width="1" height="48"/>
<rect class="r" x="613" y="352" width="5" height="39"/>
<rect class="g" x="621" y="369" width="1" height="38"/>
<rect class="g" x="619" y="378" width="5" height="15"/>
<rect class="r" x="627" y="376" width="1" height="35"/>
<rect class="r" x="625" y="376" width="5" height="22"/>
<rect class="r" x="633" y="400" width="1" height="18"/>
<rect class="r" x="631" y="400" width="5" height="8"/>
<rect class="g" x="639" y="385" width="1" height="26"/>
<rect class="g" x="637" y="388" width="5" height="22"/>
<rect class="g" x="645" y="359" width="1" height="30"/>
<rect class="g" x="643" y="376" width="5" height="13"/>
<rect class="r" x="651" y="371" width="1" height="21"/>
<rect class="r" x="649" y="376" width="5" height="10"/>
<rect class="g" x="657" y="369" width="1" height="26"/>
<rect class="g" x="655" y="381" width="5" height="3"/>
<rect class="r" x="663" y="373" width="1" height="22"/>
<rect class="r" x="661" y="381" width="5" height="10"/>
<rect class="r" x="669" y="381" width="1" height="16"/>
<rect class="r" x="667" y="390" width="5" height="3"/>
<rect class="g" x="675" y="312" width="1" height="85"/>
<rect class="g" x="673" y="373" width="5" height="20"/>
<rect class="r" x="681" y="338" width="1" height="40"/>
<rect class="r" x="679" y="371" width="5" height="6"/>
<rect class="g" x="687" y="345" width="1" height="29"/>
<rect class="g" x="685" y="357" width="5" height="17"/>
<rect class="g" x="693" y="333" width="1" height="38"/>
<rect class="g" x="691" y="338" width="5" height="20"/>
<rect class="g" x="699" y="303" width="1" height="37"/>
<rect class="g" x="697" y="303" width="5" height="34"/>
<rect class="r" x="705" y="298" width="1" height="123"/>
<rect class="r" x="703" y="303" width="5" height="12"/>
<rect class="r" x="711" y="262" width="1" height="67"/>
<rect class="r" x="709" y="312" width="5" height="10"/>
<rect class="r" x="717" y="314" width="1" height="18"/>
<rect class="r" x="715" y="324" width="5" height="8"/>
<rect class="g" x="723" y="312" width="1" height="21"/>
<rect class="g" x="721" y="331" width="5" height="1"/>
<rect class="g" x="729" y="314" width="1" height="22"/>
<rect class="g" x="727" y="331" width="5" height="1"/>
<rect class="g" x="735" y="312" width="1" height="24"/>
<rect class="g" x="733" y="319" width="5" height="15"/>
<rect class="r" x="741" y="303" width="1" height="29"/>
<rect class="r" x="739" y="321" width="5" height="11"/>
<rect class="g" x="747" y="329" width="1" height="23"/>
<rect class="g" x="745" y="331" width="5" height="1"/>
<rect class="r" x="753" y="336" width="1" height="49"/>
<rect class="r" x="751" y="336" width="5" height="41"/>
<rect class="g" x="759" y="336" width="1" height="46"/>
<rect class="g" x="757" y="340" width="5" height="42"/>
<rect class="g" x="765" y="314" width="1" height="31"/>
<rect class="g" x="763" y="324" width="5" height="20"/>
<rect class="r" x="771" y="319" width="1" height="19"/>
<rect class="r" x="769" y="321" width="5" height="9"/>
<rect class="r" x="777" y="324" width="1" height="26"/>
<rect class="r" x="775" y="326" width="5" height="6"/>
<rect class="r" x="783" y="324" width="1" height="23"/>
<rect class="r" x="781" y="336" width="5" height="8"/>
<rect class="r" x="789" y="343" width="1" height="64"/>
<rect class="r" x="787" y="345" width="5" height="60"/>
<rect class="g" x="795" y="359" width="1" height="49"/>
<rect class="g" x="793" y="371" width="5" height="37"/>
<rect class="g" x="801" y="362" width="1" height="23"/>
<rect class="g" x="799" y="373" width="5" height="1"/>
<rect class="g" x="807" y="355" width="1" height="18"/>
<rect class="g" x="805" y="359" width="5" height="8"/>
<rect class="g" x="813" y="340" width="1" height="24"/>
<rect class="g" x="811" y="355" width="5" height="8"/>
<rect class="r" x="819" y="355" width="1" height="34"/>
<rect class="r" x="817" y="355" width="5" height="34"/>
<rect class="r" x="825" y="381" width="1" height="54"/>
<rect class="r" x="823" y="390" width="5" height="18"/>
<rect class="r" x="831" y="388" width="1" height="40"/>
<rect class="r" x="829" y="404" width="5" height="20"/>
<rect class="r" x="837" y="407" width="1" height="42"/>
<rect class="r" x="835" y="423" width="5" height="22"/>
<rect class="g" x="843" y="395" width="1" height="48"/>
<rect class="g" x="841" y="395" width="5" height="48"/>
<rect class="r" x="849" y="392" width="1" height="37"/>
<rect class="r" x="847" y="397" width="5" height="32"/>
<rect class="g" x="855" y="407" width="1" height="26"/>
<rect class="g" x="853" y="407" width="5" height="22"/>
<rect class="r" x="861" y="400" width="1" height="26"/>
<rect class="r" x="859" y="407" width="5" height="15"/>
<rect class="g" x="867" y="414" width="1" height="14"/>
<rect class="g" x="865" y="421" width="5" height="3"/>
<rect class="g" x="873" y="390" width="1" height="33"/>
<rect class="g" x="871" y="395" width="5" height="24"/>
<rect class="r" x="879" y="397" width="1" height="14"/>
<rect class="r" x="877" y="397" width="5" height="11"/>
<rect class="g" x="885" y="400" width="1" height="16"/>
<rect class="g" x="883" y="409" width="5" height="3"/>
<rect class="g" x="891" y="390" width="1" height="20"/>
<rect class="g" x="889" y="392" width="5" height="18"/>
<rect class="g" x="897" y="371" width="1" height="33"/>
<rect class="g" x="895" y="392" width="5" height="1"/>
<rect class="g" x="903" y="324" width="1" height="73"/>
<rect class="g" x="901" y="364" width="5" height="27"/>
<rect class="g" x="909" y="345" width="1" height="24"/>
<rect class="g" x="907" y="362" width="5" height="3"/>
<rect class="g" x="915" y="343" width="1" height="30"/>
<rect class="g" x="913" y="347" width="5" height="18"/>
<rect class="r" x="921" y="340" width="1" height="31"/>
<rect class="r" x="919" y="345" width="5" height="18"/>
<rect class="r" x="927" y="359" width="1" height="23"/>
<rect class="r" x="925" y="364" width="5" height="18"/>
<rect class="g" x="933" y="359" width="1" height="29"/>
<rect class="g" x="931" y="359" width="5" height="25"/>
<rect class="r" x="939" y="347" width="1" height="22"/>
<rect class="r" x="937" y="362" width="5" height="3"/>
<rect class="g" x="945" y="331" width="1" height="35"/>
<rect class="g" x="943" y="338" width="5" height="27"/>
<rect class="g" x="951" y="321" width="1" height="19"/>
<rect class="g" x="949" y="331" width="5" height="8"/>
<rect class="g" x="957" y="324" width="1" height="16"/>
<rect class="g" x="955" y="324" width="5" height="6"/>
<rect class="g" x="963" y="317" width="1" height="10"/>
<rect class="g" x="961" y="321" width="5" height="6"/>
</g>
<text y="45.8" font-size="11.4"><tspan x="18.6" textLength="22.6" lengthAdjust="spacingAndGlyphs">UMA</tspan> <tspan x="47" textLength="4.4" lengthAdjust="spacingAndGlyphs">/</tspan> <tspan x="55.6" textLength="47.0" lengthAdjust="spacingAndGlyphs">TetherUS</tspan> <tspan x="115.0" textLength="11.7" lengthAdjust="spacingAndGlyphs">1h</tspan> <tspan x="139.1" textLength="41.6" lengthAdjust="spacingAndGlyphs">Binance</tspan> <tspan x="188.7" textLength="8.3" lengthAdjust="spacingAndGlyphs">O</tspan></text>
<text y="45.8" font-size="11.4" class="tg"><tspan x="197.3" textLength="28.2" lengthAdjust="spacingAndGlyphs">1.251</tspan></text>
<text y="45.8" font-size="11.4"><tspan x="233.5" textLength="7.3" lengthAdjust="spacingAndGlyphs">H</tspan></text>
<text y="45.8" font-size="11.4" class="tg"><tspan x="241.6" textLength="29.0" lengthAdjust="spacingAndGlyphs">1.255</tspan></text>
<text y="45.8" font-size="11.4"><tspan x="278.6" textLength="5.7" lengthAdjust="spacingAndGlyphs">L</tspan></text>
<text y="45.8" font-size="11.4" class="tg"><tspan x="284.8" textLength="28.5" lengthAdjust="spacingAndGlyphs">1.251</tspan></text>
<text y="45.8" font-size="11.4"><tspan x="321.2" textLength="6.8" lengthAdjust="spacingAndGlyphs">C</tspan></text>
<text y="45.8" font-size="11.4" class="tg"><tspan x="328.7" textLength="28.3" lengthAdjust="spacingAndGlyphs">1.253</tspan></text>
<text y="45.8" font-size="11.4" class="tg"><tspan x="365.5" textLength="34.8" lengthAdjust="spacingAndGlyphs">+0.001</tspan> <tspan x="405.3" textLength="43.8" lengthAdjust="spacingAndGlyphs">(+0.08%)</tspan></text>
<text x="105.0" y="47.699999999999996" font-size="16">·</text>
<text x="129.4" y="47.699999999999996" font-size="16">·</text>
<text x="80.3" y="64.5" font-size="16">·</text>
<text y="62.6" font-size="11.4"><tspan x="18.6" textLength="21.0" lengthAdjust="spacingAndGlyphs">Khối</tspan> <tspan x="45.4" textLength="31.5" lengthAdjust="spacingAndGlyphs">lượng</tspan> <tspan x="89.4" textLength="22.2" lengthAdjust="spacingAndGlyphs">UMA</tspan></text>
<text y="62.6" font-size="11.4" class="tv"><tspan x="119.3" textLength="38.4" lengthAdjust="spacingAndGlyphs">24.65K</tspan></text>
<text x="1034.0" y="71.8" font-size="11.8" textLength="29.3" lengthAdjust="spacingAndGlyphs">1.360</text>
<text x="1034.0" y="119.8" font-size="11.8" textLength="29.3" lengthAdjust="spacingAndGlyphs">1.340</text>
<text x="1034.0" y="166.8" font-size="11.8" textLength="29.3" lengthAdjust="spacingAndGlyphs">1.320</text>
<text x="1034.0" y="213.8" font-size="11.8" textLength="29.3" lengthAdjust="spacingAndGlyphs">1.300</text>
<text x="1034.0" y="261.8" font-size="11.8" textLength="29.3" lengthAdjust="spacingAndGlyphs">1.280</text>
<text x="1034.0" y="308.8" font-size="11.8" textLength="29.3" lengthAdjust="spacingAndGlyphs">1.260</text>
<text x="1034.0" y="355.8" font-size="11.8" textLength="29.3" lengthAdjust="spacingAndGlyphs">1.240</text>
<text x="1034.0" y="403.8" font-size="11.8" textLength="29.3" lengthAdjust="spacingAndGlyphs">1.220</text>
<text x="1034.0" y="450.8" font-size="11.8" textLength="29.3" lengthAdjust="spacingAndGlyphs">1.200</text>
<path d="M1027 313h40a2 2 0 0 1 2 2v13a2 2 0 0 1-2 2h-40z" fill="#089981"/>
<text x="1034.0" y="325.7" font-size="11.8" textLength="29.1" lengthAdjust="spacingAndGlyphs" class="w">1.253</text>
<path d="M1027 471h49a2 2 0 0 1 2 2v12a2 2 0 0 1-2 2h-49z" fill="#26a69a"/>
<text x="1034.2" y="483.5" font-size="11.8" textLength="38.7" lengthAdjust="spacingAndGlyphs" class="w">24.65K</text>
<text x="18.6" y="504.7" font-size="11.6" textLength="5.8" lengthAdjust="spacingAndGlyphs">4</text>
<text x="78.4" y="504.7" font-size="11.6" textLength="29.4" lengthAdjust="spacingAndGlyphs">12:00</text>
<text x="162.6" y="504.7" font-size="11.6" textLength="5.8" lengthAdjust="spacingAndGlyphs">5</text>
<text x="222.4" y="504.7" font-size="11.6" textLength="29.4" lengthAdjust="spacingAndGlyphs">12:00</text>
<text x="306.6" y="504.7" font-size="11.6" textLength="5.8" lengthAdjust="spacingAndGlyphs">6</text>
<text x="366.4" y="504.7" font-size="11.6" textLength="29.4" lengthAdjust="spacingAndGlyphs">12:00</text>
<text x="450.6" y="504.7" font-size="11.6" textLength="5.8" lengthAdjust="spacingAndGlyphs">7</text>
<text x="510.4" y="504.7" font-size="11.6" textLength="29.4" lengthAdjust="spacingAndGlyphs">12:00</text>
<text x="594.6" y="504.7" font-size="11.6" textLength="5.8" lengthAdjust="spacingAndGlyphs">8</text>
<text x="654.4" y="504.7" font-size="11.6" textLength="29.4" lengthAdjust="spacingAndGlyphs">12:00</text>
<text x="738.6" y="504.7" font-size="11.6" textLength="5.8" lengthAdjust="spacingAndGlyphs">9</text>
<text x="798.4" y="504.7" font-size="11.6" textLength="29.4" lengthAdjust="spacingAndGlyphs">12:00</text>
<text x="878.9" y="504.7" font-size="11.6" textLength="12.4" lengthAdjust="spacingAndGlyphs">10</text>
<text x="942.4" y="504.7" font-size="11.6" textLength="29.4" lengthAdjust="spacingAndGlyphs">12:00</text>
<text x="997.1" y="504.7" font-size="11.6" textLength="28.8" lengthAdjust="spacingAndGlyphs">21:00</text>
<g fill="#0f0f0f"><path d="M11.9 537H23.9V551.8H18V543H11.9z"/><circle cx="29" cy="539.9" r="2.9"/><path d="M34.9 537H41.7L36.2 551.8H29.1z"/></g>
<text x="49.1" y="551.8" font-size="21.5" font-weight="700" textLength="120.2" lengthAdjust="spacingAndGlyphs" style="fill:#0f0f0f;stroke:none">TradingView</text>
</svg>
</body></html>
